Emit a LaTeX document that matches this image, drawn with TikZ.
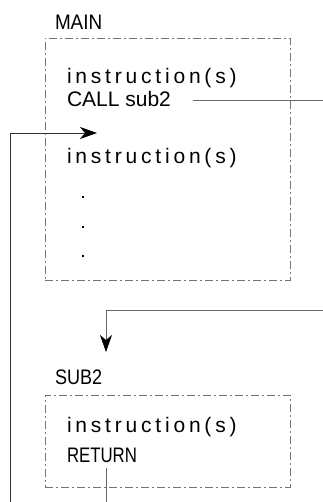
\documentclass[tikz,border=0pt]{standalone}
\usepackage{fontspec}
\setmainfont{Liberation Sans}
\usetikzlibrary{arrows.meta}

% widely tracked word, one letter at a time
\newcommand{\tk}{\kern 3.8pt}
\newcommand{\instr}{i\tk n\tk s\tk t\tk r\tk u\tk c\tk t\tk i\tk o\tk n\tk (\tk s\tk )}
% narrow caps for headings and RETURN
\newcommand{\narrow}[2]{\scalebox{#1}[1]{#2}}

\begin{document}
\begin{tikzpicture}[x=1pt, y=-1pt,
  every node/.style={inner sep=0pt, outer sep=0pt, font=\fontsize{21}{24}\selectfont},
  label/.style={anchor=base west},
  frame/.style={draw=black!55, line width=0.8pt,
    dash pattern=on 8pt off 3pt on 2pt off 3pt, anchor=north west},
  wire/.style={draw=black!60, line width=0.9pt},
  flow/.style={wire, -{Stealth[length=17pt, width=12pt, inset=5pt, black]}},
  dot/.style={fill=black, minimum size=2.2pt}
]
\useasboundingbox (0,0) rectangle (323,502);

% MAIN routine
\node[label] (mainname) at (55,30) {\narrow{0.9}{MAIN}};
\node[frame, minimum width=245pt, minimum height=242pt] (mainbox) at (45,38) {};
\node[label] (i1) at (67,84) {\instr};
\node[label] (call) at (67,107) {CALL sub2};
\node[label] (i2) at (67,164) {\instr};
\node[dot] (d1) at (83,197) {};
\node[dot] (d2) at (83,227) {};
\node[dot] (d3) at (83,256) {};

% SUB2 routine
\node[label] (subname) at (55,384) {\narrow{0.86}{SUB2}};
\node[frame, minimum width=245pt, minimum height=92pt] (subbox) at (45,395) {};
\node[label] (i3) at (67,432) {\instr};
\node[label] (ret) at (67,462) {\narrow{0.8}{RETURN}};

% control transfer
\coordinate (callout) at (323,100);
\coordinate (callin) at (323,310);
\coordinate (entry) at (106,352);
\coordinate (retout) at (106,502);
\coordinate (back) at (10,502);
\coordinate (resume) at (97,133);

\draw[wire] ([xshift=22pt]call.east |- callout) -- (callout);
\draw[flow] (callin) -| (entry);
\draw[wire] ([yshift=-6pt]ret.south -| retout) -- (retout);
\draw[flow, draw=black!80] (back) |- (resume);
\end{tikzpicture}
\end{document}
